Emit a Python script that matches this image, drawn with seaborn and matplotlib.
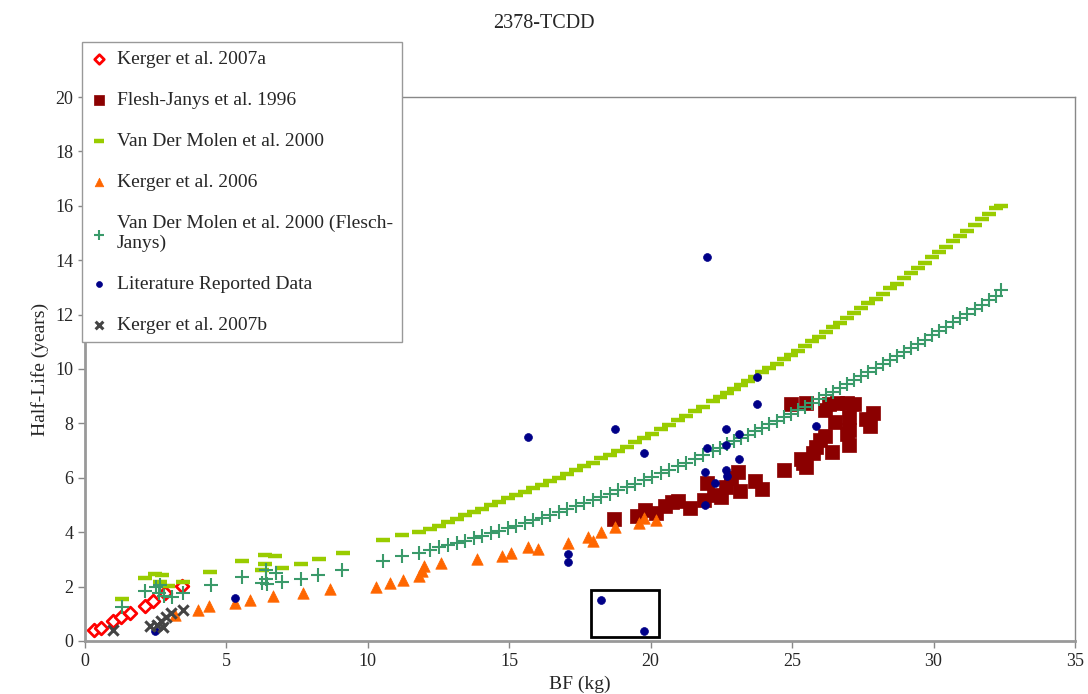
import matplotlib
matplotlib.use("Agg")
import matplotlib.pyplot as plt
from matplotlib.patches import Rectangle
import pandas as pd
import seaborn as sns

# ---- data (BF in kg, half-life in years) ----
kerger07a_bf = [0.33, 0.57, 1.0, 1.28, 1.59, 2.13, 2.42, 2.83, 3.42]
kerger07a_hl = [0.40, 0.47, 0.74, 0.87, 1.04, 1.29, 1.47, 1.75, 2.02]

flesh_bf = [18.7, 19.5, 19.8, 20.2, 20.5, 20.75, 20.95, 21.4, 21.9, 22.0,
            22.25, 22.5, 22.65, 22.85, 23.1, 23.15, 23.7, 23.95, 24.7, 25.3,
            25.4, 25.5, 25.75, 25.85, 26.0, 26.15, 26.4, 26.5, 24.95, 25.5,
            26.15, 26.3, 26.6, 26.95, 27.2, 27.0, 27.0, 26.95, 27.0, 27.6,
            27.75, 27.85]
flesh_hl = [4.5, 4.6, 4.8, 4.7, 4.95, 5.1, 5.15, 4.9, 5.2, 5.8,
            5.35, 5.3, 5.65, 6.0, 6.2, 5.5, 5.9, 5.6, 6.3, 6.7,
            6.55, 6.4, 6.9, 7.15, 7.4, 7.55, 6.95, 8.05, 8.7, 8.75,
            8.5, 8.7, 8.75, 8.75, 8.7, 8.25, 7.75, 7.6, 7.2, 8.15,
            7.9, 8.4]

# scattered low-BF points of the two Van Der Molen series
vdm_low_bf = [1.3, 2.13, 2.48, 2.72, 2.66, 2.95, 3.48, 4.43, 5.55, 6.38,
              6.73, 6.38, 6.26, 6.97, 7.62, 8.27, 9.12]
vdm_low_hl = [1.54, 2.3, 2.45, 2.41, 2.18, 2.03, 2.16, 2.55, 2.94, 3.16,
              3.14, 2.82, 2.61, 2.7, 2.83, 3.0, 3.22]
vdmfj_low_bf = [1.3, 2.13, 2.5, 2.66, 2.62, 2.81, 3.07, 3.45, 4.45, 5.55,
                6.41, 6.77, 6.26, 6.44, 6.41, 6.97, 7.64, 8.23, 9.09]
vdmfj_low_hl = [1.26, 1.83, 1.98, 2.05, 1.75, 1.65, 1.63, 1.75, 2.06, 2.36,
                2.61, 2.51, 2.14, 2.1, 2.27, 2.18, 2.27, 2.43, 2.61]

# model curves (shared BF grid)
curve_bf = [10.55, 11.22, 11.8, 12.2, 12.52, 12.85, 13.15, 13.45, 13.75, 14.05,
            14.35, 14.65, 14.95, 15.25, 15.55, 15.85, 16.15, 16.45, 16.75, 17.05,
            17.35, 17.65, 17.95, 18.25, 18.55, 18.85, 19.15, 19.45, 19.75, 20.05,
            20.35, 20.65, 20.95, 21.25, 21.55, 21.85, 22.2, 22.45, 22.7, 22.95,
            23.2, 23.45, 23.7, 23.95, 24.2, 24.45, 24.7, 24.95, 25.2, 25.45,
            25.7, 25.95, 26.2, 26.45, 26.7, 26.95, 27.2, 27.45, 27.7, 27.95,
            28.2, 28.45, 28.7, 28.95, 29.2, 29.45, 29.7, 29.95, 30.2, 30.45,
            30.7, 30.95, 31.2, 31.45, 31.7, 31.95, 32.2, 32.4]
vdm_curve_hl = [3.70, 3.88, 4.02, 4.12, 4.22, 4.38, 4.50, 4.62, 4.74, 4.86,
                4.99, 5.11, 5.24, 5.37, 5.49, 5.62, 5.74, 5.87, 6.01, 6.14,
                6.28, 6.42, 6.56, 6.71, 6.85, 7.00, 7.15, 7.31, 7.46, 7.62,
                7.78, 7.94, 8.11, 8.27, 8.44, 8.62, 8.82, 8.97, 9.11, 9.26,
                9.42, 9.57, 9.72, 9.88, 10.04, 10.20, 10.36, 10.52, 10.68, 10.85,
                11.02, 11.18, 11.35, 11.53, 11.70, 11.87, 12.05, 12.23, 12.41, 12.59,
                12.77, 12.96, 13.14, 13.33, 13.52, 13.71, 13.90, 14.10, 14.29, 14.49,
                14.69, 14.89, 15.09, 15.29, 15.50, 15.70, 15.91, 16.0]
vdmfj_curve_hl = [2.95, 3.12, 3.25, 3.35, 3.44, 3.53, 3.61, 3.69, 3.78, 3.87,
                  3.96, 4.05, 4.15, 4.24, 4.34, 4.44, 4.54, 4.65, 4.75, 4.86,
                  4.97, 5.08, 5.19, 5.31, 5.42, 5.54, 5.66, 5.79, 5.91, 6.04,
                  6.16, 6.29, 6.43, 6.56, 6.69, 6.83, 6.99, 7.11, 7.23, 7.35,
                  7.47, 7.59, 7.72, 7.84, 7.97, 8.10, 8.23, 8.36, 8.49, 8.62,
                  8.76, 8.89, 9.03, 9.17, 9.31, 9.45, 9.59, 9.73, 9.88, 10.02,
                  10.17, 10.32, 10.47, 10.62, 10.77, 10.93, 11.08, 11.24, 11.40, 11.56,
                  11.72, 11.88, 12.04, 12.20, 12.37, 12.54, 12.70, 12.90]

kerger06_bf = [3.2, 4.0, 4.4, 5.3, 5.85, 6.65, 7.72, 8.65, 10.3, 10.78,
               11.25, 11.8, 11.9, 11.98, 12.6, 13.87, 14.76, 15.05, 15.65, 16.02,
               17.06, 17.77, 17.95, 18.25, 18.73, 19.6, 19.78, 20.2]
kerger06_hl = [0.95, 1.15, 1.3, 1.4, 1.52, 1.67, 1.78, 1.9, 2.0, 2.14,
               2.25, 2.4, 2.58, 2.75, 2.87, 3.0, 3.13, 3.22, 3.47, 3.37,
               3.59, 3.83, 3.69, 4.02, 4.2, 4.32, 4.54, 4.44]

lit_bf = [22.0, 23.76, 23.76, 15.68, 18.74, 19.78, 22.67, 23.14, 22.0, 22.67,
          23.14, 21.93, 22.67, 22.69, 22.26, 21.93, 25.86, 18.24, 19.78, 17.06,
          17.06, 5.31, 2.48]
lit_hl = [14.1, 9.7, 8.7, 7.5, 7.8, 6.9, 7.8, 7.6, 7.1, 7.2,
          6.7, 6.2, 6.3, 6.07, 5.8, 5.0, 7.9, 1.5, 0.35, 3.2,
          2.9, 1.59, 0.38]

kerger07b_bf = [1.0, 2.3, 2.55, 2.75, 2.7, 2.85, 3.05, 3.45]
kerger07b_hl = [0.42, 0.54, 0.6, 0.52, 0.75, 0.9, 1.02, 1.14]

# highlighted region around the two low literature values
box_bf = (17.9, 20.3)
box_hl = (0.15, 1.88)

# ---- plot ----
sns.set_style("white")
plt.rcParams["font.family"] = ["Liberation Serif", "DejaVu Serif"]

fig = plt.figure(figsize=(10.88, 6.94), dpi=100)
ax = fig.add_axes([0.0781, 0.0764, 0.9099, 0.7838])

vdm_bf = vdm_low_bf + curve_bf
vdm_hl = vdm_low_hl + vdm_curve_hl
vdmfj_bf = vdmfj_low_bf + curve_bf
vdmfj_hl = vdmfj_low_hl + vdmfj_curve_hl

sns.scatterplot(x=kerger07a_bf, y=kerger07a_hl, ax=ax, marker="D", s=42,
                color="white", edgecolor="#FF0000", linewidth=2,
                label="Kerger et al. 2007a")
sns.scatterplot(x=flesh_bf, y=flesh_hl, ax=ax, marker="s", s=90,
                color="#8B0000", edgecolor="#8B0000", linewidth=0.5,
                label="Flesh-Janys et al. 1996")
sns.scatterplot(x=vdm_bf, y=vdm_hl, ax=ax, marker="_", s=110,
                color="#99CC00", linewidth=3.2,
                label="Van Der Molen et al. 2000")
sns.scatterplot(x=kerger06_bf, y=kerger06_hl, ax=ax, marker="^", s=68,
                color="#FF6600", edgecolor="#FF6600", linewidth=0.5,
                label="Kerger et al. 2006")
sns.scatterplot(x=vdmfj_bf, y=vdmfj_hl, ax=ax, marker="+", s=110,
                color="#3A9A6A", linewidth=1.5,
                label="Van Der Molen et al. 2000 (Flesch-\nJanys)")
sns.scatterplot(x=lit_bf, y=lit_hl, ax=ax, marker="o", s=32,
                color="#000088", edgecolor="#000088", linewidth=0.5,
                label="Literature Reported Data")
sns.scatterplot(x=kerger07b_bf, y=kerger07b_hl, ax=ax, marker="x", s=55,
                color="#444444", linewidth=2.2,
                label="Kerger et al. 2007b")

ax.add_patch(Rectangle((box_bf[0], box_hl[0]), box_bf[1] - box_bf[0],
                       box_hl[1] - box_hl[0], fill=False,
                       edgecolor="black", linewidth=2, zorder=5))

ax.set_xlim(0, 35)
ax.set_ylim(0, 20)
ax.set_xticks(range(0, 36, 5))
ax.set_yticks(range(0, 21, 2))
ax.tick_params(axis="both", labelsize=13, direction="out", length=5,
               width=1, color="#888888", left=True, bottom=True)
ax.set_xlabel("BF (kg)", fontsize=14)
ax.set_ylabel("Half-Life (years)", fontsize=14)

for side in ["top", "right"]:
    ax.spines[side].set_color("#888888")
    ax.spines[side].set_linewidth(1)
for side in ["left", "bottom"]:
    ax.spines[side].set_color("#999999")
    ax.spines[side].set_linewidth(2)

fig.suptitle("2378-TCDD", fontsize=14.5, y=0.98)

leg = ax.legend(loc="upper left", bbox_to_anchor=(0.0754, 0.9395),
                bbox_transform=fig.transFigure, fontsize=14, frameon=True,
                fancybox=False, edgecolor="#999999", framealpha=1,
                labelspacing=1.2, handlelength=0.8, handletextpad=0.55,
                borderpad=0.45, markerscale=0.75, borderaxespad=0)
leg.get_frame().set_linewidth(1)
leg.set_zorder(10)

fig.savefig("out.png", dpi=100)
